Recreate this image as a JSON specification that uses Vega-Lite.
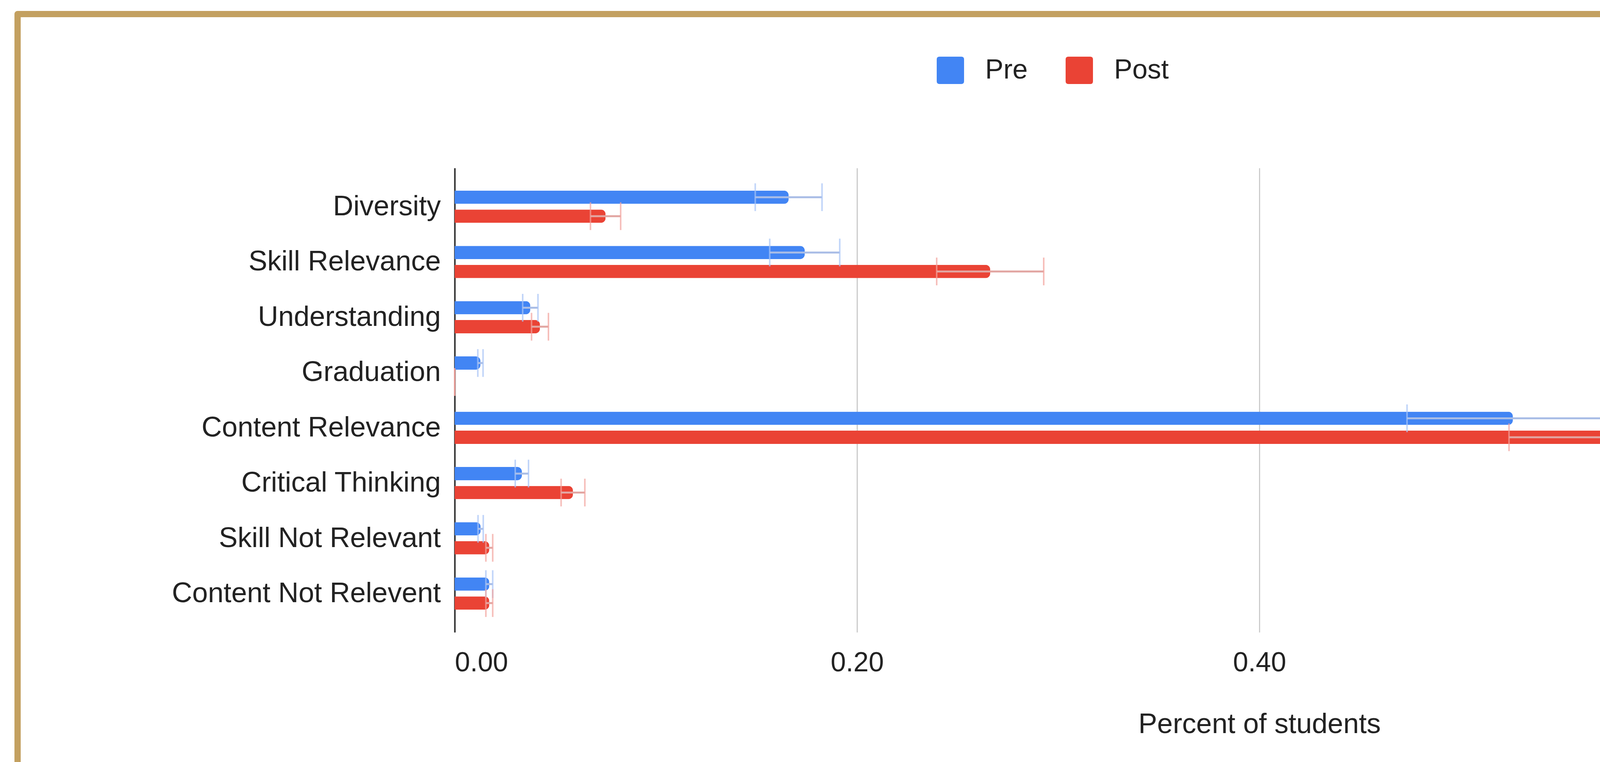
{
  "$schema": "https://vega.github.io/schema/vega-lite/v6.json",
  "background": "white",
  "autosize": {"type": "none"},
  "padding": {"left": 45, "top": 36, "right": 0, "bottom": 0},
  "width": 5232,
  "height": 1914,
  "view": {"stroke": "#c3a060", "strokeWidth": 16, "strokeDash": [5232, 7146, 1914, 0], "strokeCap": "round", "fill": "white"},
  "config": {"font": "Liberation Sans"},
  "resolve": {"axis": {"x": "independent"}},
  "data": {"values": [
    {"category": "Diversity", "series": "Pre", "value": 0.166, "lower": 0.1494, "upper": 0.1826},
    {"category": "Diversity", "series": "Post", "value": 0.075, "lower": 0.0675, "upper": 0.0825},
    {"category": "Skill Relevance", "series": "Pre", "value": 0.174, "lower": 0.1566, "upper": 0.1914},
    {"category": "Skill Relevance", "series": "Post", "value": 0.2662, "lower": 0.2396, "upper": 0.2928},
    {"category": "Understanding", "series": "Pre", "value": 0.0376, "lower": 0.0338, "upper": 0.0414},
    {"category": "Understanding", "series": "Post", "value": 0.0424, "lower": 0.0382, "upper": 0.0466},
    {"category": "Graduation", "series": "Pre", "value": 0.0128, "lower": 0.0115, "upper": 0.0141},
    {"category": "Graduation", "series": "Post", "value": 0, "lower": 0, "upper": 0},
    {"category": "Content Relevance", "series": "Pre", "value": 0.526, "lower": 0.4734, "upper": 0.5786},
    {"category": "Content Relevance", "series": "Post", "value": 0.5823, "lower": 0.5241, "upper": 0.6405},
    {"category": "Critical Thinking", "series": "Pre", "value": 0.0334, "lower": 0.0301, "upper": 0.0367},
    {"category": "Critical Thinking", "series": "Post", "value": 0.0588, "lower": 0.0529, "upper": 0.0647},
    {"category": "Skill Not Relevant", "series": "Pre", "value": 0.0129, "lower": 0.0116, "upper": 0.0142},
    {"category": "Skill Not Relevant", "series": "Post", "value": 0.0172, "lower": 0.0155, "upper": 0.0189},
    {"category": "Content Not Relevent", "series": "Pre", "value": 0.0172, "lower": 0.0155, "upper": 0.0189},
    {"category": "Content Not Relevent", "series": "Post", "value": 0.0172, "lower": 0.0155, "upper": 0.0189}
  ]},
  "encoding": {
    "y": {
      "field": "category",
      "type": "nominal",
      "sort": ["Diversity", "Skill Relevance", "Understanding", "Graduation", "Content Relevance", "Critical Thinking", "Skill Not Relevant", "Content Not Relevent"],
      "scale": {"range": [394, 1582], "paddingInner": 0.4166, "paddingOuter": 0.4079},
      "axis": {
        "title": null,
        "offset": -1119,
        "labelFontSize": 72,
        "labelColor": "#222222",
        "labelPadding": 36,
        "ticks": false,
        "domainColor": "#333333",
        "domainWidth": 4,
        "grid": false,
        "labelLimit": 0
      }
    },
    "yOffset": {
      "field": "series",
      "type": "nominal",
      "sort": ["Pre", "Post"],
      "scale": {"domain": ["Pre", "Post"], "paddingInner": 0.3, "paddingOuter": 0}
    }
  },
  "layer": [
    {
      "mark": {"type": "bar", "cornerRadiusEnd": 12},
      "encoding": {
        "x": {
          "field": "value",
          "type": "quantitative",
          "title": "Percent of students",
          "scale": {"domain": [0, 0.8], "range": [1119, 5239], "nice": false, "zero": true},
          "axis": {
            "values": [0, 0.2, 0.4, 0.6, 0.8],
            "format": ".2f",
            "orient": "bottom",
            "offset": -332,
            "grid": false,
            "labelFontSize": 70,
            "labelColor": "#222222",
            "ticks": false,
            "domain": false,
            "labelPadding": 44,
            "titleFontSize": 72,
            "titleFontWeight": "normal",
            "titleColor": "#222222",
            "titlePadding": 87
          }
        },
        "color": {
          "field": "series",
          "type": "nominal",
          "scale": {"domain": ["Pre", "Post"], "range": ["#4285f4", "#ea4335"]},
          "legend": {
            "title": null,
            "orient": "none",
            "legendX": 2353,
            "legendY": 109,
            "direction": "horizontal",
            "symbolType": "M-1,-0.8Q-1,-1,-0.8,-1L0.8,-1Q1,-1,1,-0.8L1,0.8Q1,1,0.8,1L-0.8,1Q-1,1,-1,0.8Z",
            "symbolSize": 4900,
            "symbolStrokeWidth": 0,
            "symbolOpacity": 1,
            "labelFontSize": 70,
            "labelOffset": 54,
            "columnPadding": 97,
            "labelColor": "#222222",
            "labelLimit": 0,
            "padding": 0
          }
        }
      }
    },
    {
      "mark": {"type": "rule", "strokeWidth": 5},
      "encoding": {
        "x": {
          "field": "lower",
          "type": "quantitative",
          "axis": {
            "orient": "top",
            "values": [0, 0.2, 0.4, 0.6, 0.8],
            "grid": true,
            "gridColor": "#cccccc",
            "gridWidth": 3,
            "labels": false,
            "ticks": false,
            "domain": false,
            "title": null
          }
        },
        "x2": {"field": "upper"},
        "color": {"condition": {"test": "datum.series === 'Pre'", "value": "#a9bde6"}, "value": "#e2a6a2"}
      }
    },
    {
      "mark": {"type": "tick", "orient": "vertical", "thickness": 4, "size": 71},
      "encoding": {
        "x": {"field": "lower", "type": "quantitative", "axis": null},
        "color": {"condition": {"test": "datum.series === 'Pre'", "value": "#a6c3f7"}, "value": "#f2a39c"}
      }
    },
    {
      "mark": {"type": "tick", "orient": "vertical", "thickness": 4, "size": 71},
      "encoding": {
        "x": {"field": "upper", "type": "quantitative", "axis": null},
        "color": {"condition": {"test": "datum.series === 'Pre'", "value": "#a6c3f7"}, "value": "#f2a39c"}
      }
    }
  ]
}
